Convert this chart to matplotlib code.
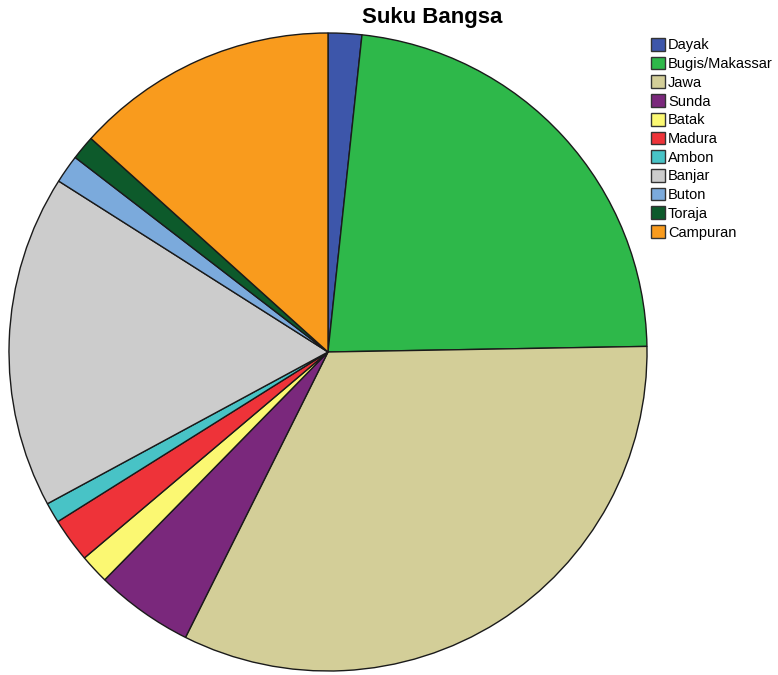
import matplotlib
matplotlib.use('Agg')

import matplotlib.pyplot as plt

plt.rcParams['font.family'] = ['Liberation Sans', 'DejaVu Sans']

# Ethnic groups and their share of respondents (%)
groups = ["Dayak", "Bugis/Makassar", "Jawa", "Sunda", "Batak", "Madura",
          "Ambon", "Banjar", "Buton", "Toraja", "Campuran"]
shares = [1.70, 23.02, 32.65, 4.97, 1.49, 2.25, 1.03, 16.89, 1.44, 1.23, 13.33]
colors = ["#3D56AA", "#2EB84A", "#D3CE98", "#7A287C", "#FBF872", "#EE3339",
          "#48C3C6", "#CCCCCC", "#7BAADC", "#0D5A2B", "#F99B1D"]

W, H = 778, 675
fig = plt.figure(figsize=(W / 100, H / 100), dpi=100)

# Pie area in pixel coordinates
cx, cy, r = 328, 352, 319
ax = fig.add_axes([(cx - r) / W, (H - cy - r) / H, 2 * r / W, 2 * r / H])
wedges, _ = ax.pie(shares, colors=colors, startangle=90, counterclock=False,
                   radius=1, wedgeprops=dict(edgecolor="#1a1a1a", linewidth=1.0))
ax.set_xlim(-1.0, 1.0)
ax.set_ylim(-1.0, 1.0)
ax.set_aspect('equal')
ax.axis('off')

fig.text(432 / W, 1 - 17 / H, "Suku Bangsa", ha='center', va='center',
         fontsize=16, fontweight='bold')

leg = fig.legend(wedges, groups, loc='upper left',
                 bbox_to_anchor=(651 / W, 1 - 38 / H),
                 frameon=False, fontsize=10.5, borderpad=0, borderaxespad=0,
                 handlelength=0.96, handleheight=0.96, handletextpad=0.2,
                 labelspacing=0.30)
for h in leg.legend_handles:
    h.set_edgecolor("#333333")
    h.set_linewidth(1.0)

plt.savefig("out.png", dpi=100)
